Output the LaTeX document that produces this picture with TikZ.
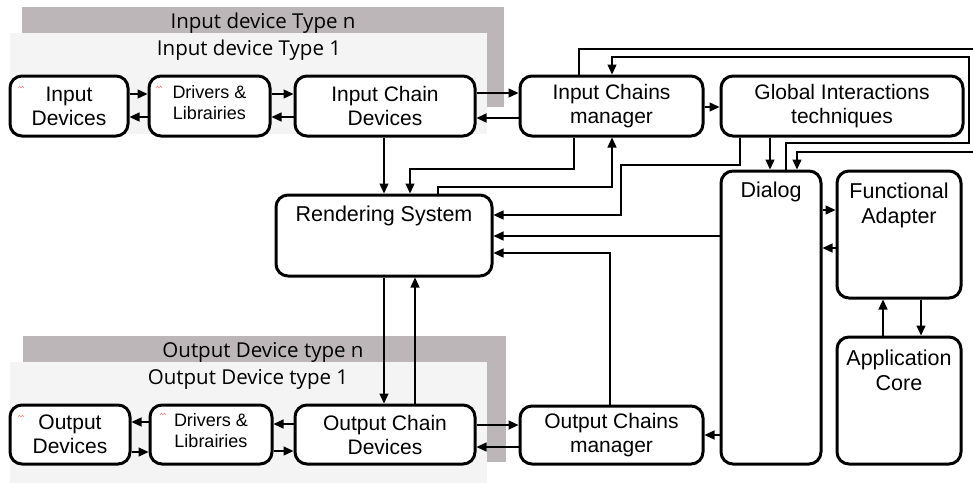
\documentclass[tikz,border=0pt]{standalone}
\usepackage{fontspec}
\setmainfont{Liberation Sans}
\newfontfamily\bandfont{Open Sans}
\usetikzlibrary{arrows.meta}
\definecolor{banddark}{RGB}{189,182,185}
\definecolor{bandlight}{RGB}{244,244,244}
\begin{document}
\begin{tikzpicture}[x=1pt,y=-1pt,
    blockbox/.style={draw,fill=white,line width=3pt,rounded corners=12pt,inner sep=0pt,align=center,
        font=\fontsize{21}{24}\selectfont},
    drvtext/.style={align=center,font=\fontsize{18}{21}\selectfont},
    link/.style={line width=1.3pt,-{Triangle[length=10pt,width=9pt]}},
    bandtext/.style={font=\bandfont\fontsize{20.5}{22}\selectfont},
    icon/.style={red!60,line width=0.4pt}]
    \useasboundingbox (0,0) rectangle (973,485);
    % bands behind the device chains
    \fill[banddark] (22,7) rectangle (504,107);       % input type n
    \fill[bandlight] (10,33) rectangle (487,134);     % input type 1
    \fill[banddark] (23,336) rectangle (506,462);     % output type n
    \fill[bandlight] (10,362) rectangle (487,483);    % output type 1
    \node[bandtext] (intypen) at (263,23) {Input device Type n};
    \node[bandtext] (intypeone) at (249,50) {Input device Type 1};
    \node[bandtext] (outtypen) at (263,352) {Output Device type n};
    \node[bandtext] (outtypeone) at (248,379) {Output Device type 1};
    % input chain
    \node[blockbox,minimum width=118pt,minimum height=60pt] (indev) at (69,106) {Input\\Devices};
    \node[blockbox,minimum width=121pt,minimum height=60pt] (indrv) at (209.5,106) {};
    \node[drvtext] (indrvtext) at (209.5,103) {Drivers \&\\Librairies};
    \node[blockbox,minimum width=180pt,minimum height=60pt] (icd) at (385,106) {Input Chain\\Devices};
    \node[blockbox,minimum width=183pt,minimum height=60pt] (icm) at (611.5,106) {Input Chains\\manager};
    \node[blockbox,minimum width=242pt,minimum height=60pt] (git) at (842,106) {Global Interactions\\techniques};
    % middle
    \node[blockbox,minimum width=216pt,minimum height=81pt] (render) at (384,235.5) {};
    \node[blockbox,minimum width=100pt,minimum height=293pt] (dialog) at (771,317.5) {};
    \node[blockbox,minimum width=124pt,minimum height=127pt] (funad) at (899,234.5) {};
    \node[blockbox,minimum width=124pt,minimum height=127pt] (appcore) at (899,400.5) {};
    \node[font=\fontsize{21.5}{25}\selectfont] (rendertext) at (384,216) {Rendering System};
    \node[font=\fontsize{21.5}{25}\selectfont] (dialogtext) at (771,192) {Dialog};
    \node[font=\fontsize{21.5}{25}\selectfont,align=center] (funadtext) at (899,205) {Functional\\Adapter};
    \node[font=\fontsize{21.5}{25}\selectfont,align=center] (appcoretext) at (899,370) {Application\\Core};
    % output chain
    \node[blockbox,minimum width=120pt,minimum height=59pt] (outdev) at (70,434.5) {Output\\Devices};
    \node[blockbox,minimum width=122pt,minimum height=59pt] (outdrv) at (211,434.5) {};
    \node[drvtext] (outdrvtext) at (211,431) {Drivers \&\\Librairies};
    \node[blockbox,minimum width=180pt,minimum height=59pt] (ocd) at (385,434.5) {Output Chain\\Devices};
    \node[blockbox,minimum width=183pt,minimum height=58pt] (ocm) at (611.5,435) {Output Chains\\manager};
    % small icons
    \draw[icon] (18,88) -- (19.5,86) -- (21,88) -- (22.5,86) -- (24,88);
    \draw[icon] (156,88) -- (157.5,86) -- (159,88) -- (160.5,86) -- (162,88);
    \draw[icon] (18,417) -- (19.5,415) -- (21,417) -- (22.5,415) -- (24,417);
    \draw[icon] (160,415) -- (161.5,413) -- (163,415) -- (164.5,413) -- (166,415);
    % input row links
    \draw[link] (indev.east |- 0,94) -- (indrv.west |- 0,94);
    \draw[link] (indrv.west |- 0,117) -- (indev.east |- 0,117);
    \draw[link] (indrv.east |- 0,94) -- (icd.west |- 0,94);
    \draw[link] (icd.west |- 0,117) -- (indrv.east |- 0,117);
    \draw[link] (icd.east |- 0,93) -- (icm.west |- 0,93);
    \draw[link] (icm.west |- 0,118) -- (icd.east |- 0,118);
    \draw[link] (icm.east |- 0,107) -- (git.west |- 0,107);
    % loops over the top
    \draw[link] (579,0 |- icm.north) |- (980,49) |- (797,152) -- (797,0 |- dialog.north);
    \draw[link] (786,0 |- dialog.north) |- (969,143) |- (612,57) -- (612,0 |- icm.north);
    \draw[link] (770,0 |- git.south) -- (770,0 |- dialog.north);
    % links to the rendering system
    \draw[link] (740,0 |- git.south) |- (621,165) |- (render.east |- 0,215);
    \draw[link] (574,0 |- icm.south) |- (410,169) -- (410,0 |- render.north);
    \draw[link] (438,0 |- render.north) |- (612,187) -- (612,0 |- icm.south);
    \draw[link] (384,0 |- icd.south) -- (384,0 |- render.north);
    \draw[link] (dialog.west |- 0,236) -- (render.east |- 0,236);
    \draw[link] (610,0 |- ocm.north) |- (render.east |- 0,253);
    \draw[link] (384,0 |- render.south) -- (384,0 |- ocd.north);
    \draw[link] (415,0 |- ocd.north) -- (415,0 |- render.south);
    % dialog, adapter, core
    \draw[link] (dialog.east |- 0,210) -- (funad.west |- 0,210);
    \draw[link] (funad.west |- 0,248) -- (dialog.east |- 0,248);
    \draw[link] (883,0 |- appcore.north) -- (883,0 |- funad.south);
    \draw[link] (921,0 |- funad.south) -- (921,0 |- appcore.north);
    \draw[link] (dialog.west |- 0,435) -- (ocm.east |- 0,435);
    % output row links
    \draw[link] (ocd.east |- 0,425) -- (ocm.west |- 0,425);
    \draw[link] (ocm.west |- 0,447) -- (ocd.east |- 0,447);
    \draw[link] (ocd.west |- 0,424) -- (outdrv.east |- 0,424);
    \draw[link] (outdrv.east |- 0,451) -- (ocd.west |- 0,451);
    \draw[link] (outdrv.west |- 0,422) -- (outdev.east |- 0,422);
    \draw[link] (outdev.east |- 0,452) -- (outdrv.west |- 0,452);
\end{tikzpicture}
\end{document}
